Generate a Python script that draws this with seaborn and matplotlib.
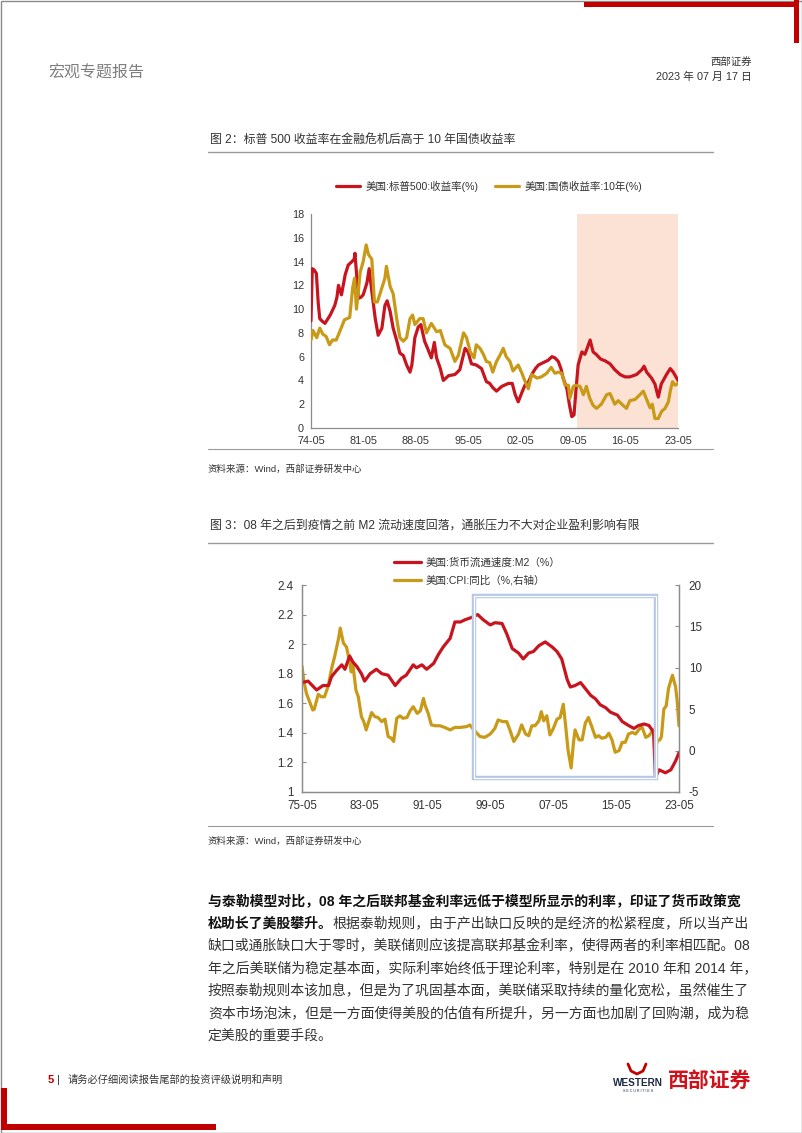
import matplotlib
matplotlib.use("Agg")
import matplotlib.pyplot as plt
import seaborn as sns
import pandas as pd
from matplotlib.patches import Rectangle
from matplotlib.lines import Line2D

# ---------------- data: chart 1 (S&P500 earnings yield vs 10Y treasury) ----------------
sp_years = [1974.33, 1974.5, 1974.75, 1975.05, 1975.3, 1975.5, 1975.8, 1976.2, 1976.6, 1976.9,
            1977.5, 1977.8, 1978.0, 1978.4, 1978.9, 1979.3, 1979.8, 1980.1, 1980.2, 1980.4,
            1980.65, 1981.0, 1981.3, 1981.8, 1982.1, 1982.45, 1982.9, 1983.3, 1983.8, 1984.2,
            1984.5, 1984.9, 1985.3, 1985.8, 1986.2, 1986.65, 1987.1, 1987.55, 1987.8, 1988.2,
            1988.65, 1989.0, 1989.5, 1989.9, 1990.4, 1990.8, 1991.1, 1991.6, 1992.0, 1992.7,
            1993.55, 1994.2, 1994.9, 1995.3, 1995.75, 1996.4, 1997.1, 1997.75, 1998.2, 1998.6,
            1999.1, 1999.8, 2000.7, 2001.2, 2001.6, 2002.0, 2002.5, 2002.9, 2003.4, 2003.8,
            2004.3, 2004.7, 2005.35, 2006.0, 2006.5, 2006.9, 2007.35, 2007.7, 2008.0, 2008.5,
            2008.85, 2009.15, 2009.45, 2009.7, 2010.0, 2010.5, 2010.9, 2011.2, 2011.6, 2012.0,
            2012.4, 2013.0, 2013.6, 2014.25, 2014.9, 2015.6, 2016.25, 2016.9, 2017.8, 2018.5,
            2018.8, 2019.15, 2019.8, 2020.25, 2020.7, 2021.1, 2021.8, 2022.3, 2022.7, 2023.33]
sp_yield = [9.0, 13.4, 13.3, 13.0, 10.5, 9.2, 9.0, 8.8, 9.2, 9.5,
            10.3, 11.0, 12.0, 11.2, 12.9, 13.7, 14.0, 14.2, 14.7, 13.1,
            10.9, 11.0, 11.2, 12.2, 13.4, 11.5, 9.25, 7.8, 8.4, 10.3,
            10.7, 9.8, 8.4, 7.3, 6.3, 6.1, 5.3, 4.7, 5.3, 7.6,
            8.5, 8.7, 7.3, 6.7, 5.9, 7.2, 5.9, 5.0, 4.0, 4.4,
            4.5, 4.9, 6.7, 6.4, 5.4, 5.3, 5.0, 3.9, 3.75, 3.4,
            3.1, 3.5, 3.75, 3.75, 2.8, 2.2, 3.0, 3.6, 3.9, 4.5,
            5.0, 5.3, 5.5, 5.7, 6.0, 5.9, 5.6, 5.0, 4.2, 3.3,
            1.9, 0.95, 1.1, 3.1, 5.3, 6.4, 6.2, 6.7, 7.4, 6.4,
            6.2, 5.8, 5.65, 5.4, 4.9, 4.5, 4.3, 4.3, 4.5, 4.9,
            5.2, 4.7, 4.2, 3.7, 2.6, 3.7, 4.5, 5.0, 4.7, 4.0]

tsy_years = [1974.33, 1974.6, 1975.1, 1975.5, 1975.9, 1976.35, 1976.8, 1977.2, 1977.7, 1978.1,
             1978.8, 1979.5, 1979.9, 1980.15, 1980.4, 1980.9, 1981.3, 1981.7, 1982.0, 1982.45,
             1982.8, 1983.2, 1983.7, 1984.2, 1984.4, 1984.9, 1985.3, 1985.8, 1986.2, 1986.65,
             1987.1, 1987.55, 1987.9, 1988.2, 1988.85, 1989.3, 1989.75, 1990.4, 1991.1, 1991.6,
             1992.2, 1992.9, 1993.55, 1994.0, 1994.7, 1995.1, 1995.6, 1996.1, 1996.4, 1996.9,
             1997.35, 1997.75, 1998.2, 1998.6, 1999.1, 1999.55, 2000.0, 2000.4, 2000.9, 2001.3,
             2002.0, 2002.5, 2002.8, 2003.35, 2003.8, 2004.5, 2005.1, 2005.8, 2006.4, 2006.9,
             2007.35, 2007.8, 2008.25, 2008.7, 2008.9, 2009.35, 2009.7, 2010.25, 2010.7, 2011.1,
             2011.55, 2012.0, 2012.45, 2013.1, 2013.8, 2014.25, 2014.9, 2015.35, 2016.0, 2016.45,
             2016.9, 2017.6, 2018.25, 2018.7, 2019.15, 2019.6, 2019.9, 2020.25, 2020.7, 2021.15,
             2021.6, 2022.05, 2022.3, 2022.6, 2022.95, 2023.33]
tsy_yield = [7.4, 8.2, 7.6, 8.4, 7.9, 7.7, 7.0, 7.4, 7.4, 8.0,
             9.1, 9.3, 11.8, 12.6, 10.0, 13.1, 14.0, 15.4, 14.6, 14.2,
             10.6, 10.6, 11.6, 12.6, 13.6, 11.9, 11.3, 9.1, 7.6, 7.3,
             7.6, 9.2, 9.5, 8.7, 9.2, 9.2, 8.0, 8.8, 8.1, 8.2,
             7.0, 6.7, 5.6, 6.1, 8.0, 7.6, 6.4, 5.9, 7.0, 6.7,
             6.2, 5.6, 5.5, 4.7, 5.6, 6.1, 6.7, 6.0, 5.6, 4.8,
             5.3, 4.6, 4.1, 3.3, 4.5, 4.2, 4.3, 4.6, 5.1, 4.6,
             4.7, 4.6, 3.6, 3.6, 2.5, 3.5, 3.6, 3.5, 2.8, 3.5,
             2.5, 1.9, 1.65, 2.0, 2.8, 2.9, 2.0, 2.3, 1.9, 1.65,
             2.3, 2.4, 2.8, 3.1, 2.4, 1.7, 2.0, 0.8, 0.8, 1.4,
             1.65, 2.2, 3.1, 3.9, 3.6, 3.75]

c1_xlabels = ["74-05", "81-05", "88-05", "95-05", "02-05", "09-05", "16-05", "23-05"]
c1_yticks = [0, 2, 4, 6, 8, 10, 12, 14, 16, 18]
c1_shade = (2009.85, 2023.33)
c1_names = ["美国:标普500:收益率(%)", "美国:国债收益率:10年(%)"]

# ---------------- data: chart 2 (M2 velocity vs CPI yoy) ----------------
m2_years = [1975.33, 1976.1, 1977.2, 1978.0, 1978.7, 1979.1, 1979.7, 1980.4, 1980.8, 1981.4,
            1981.8, 1982.3, 1982.9, 1983.3, 1984.0, 1984.8, 1985.5, 1986.3, 1987.2, 1988.0,
            1988.6, 1989.5, 1989.9, 1990.6, 1991.2, 1992.1, 1992.7, 1993.3, 1994.2, 1994.8,
            1995.5, 1996.1, 1996.9, 1997.7, 1998.4, 1999.3, 1999.9, 2000.8, 2001.4, 2002.1,
            2002.9, 2003.5, 2004.2, 2004.8, 2005.5, 2006.3, 2007.2, 2007.8, 2008.4, 2009.1,
            2009.5, 2010.1, 2010.8, 2011.4, 2012.1, 2012.7, 2013.3, 2014.0, 2014.6, 2015.5,
            2016.1, 2016.9, 2017.6, 2018.2, 2018.9, 2019.5, 2019.9, 2020.1, 2020.33, 2020.8,
            2021.6, 2022.3, 2022.9, 2023.33]
m2_vel = [1.74, 1.75, 1.69, 1.72, 1.72, 1.78, 1.82, 1.86, 1.83, 1.92,
          1.88, 1.85, 1.80, 1.75, 1.80, 1.83, 1.80, 1.79, 1.72, 1.77,
          1.79, 1.86, 1.84, 1.86, 1.83, 1.87, 1.93, 1.98, 2.04, 2.15,
          2.15, 2.165, 2.18, 2.20, 2.165, 2.13, 2.145, 2.14, 2.07, 1.97,
          1.94, 1.90, 1.94, 1.95, 1.99, 2.015, 1.98, 1.95, 1.90, 1.76,
          1.71, 1.72, 1.74, 1.70, 1.653, 1.63, 1.59, 1.57, 1.54, 1.52,
          1.477, 1.45, 1.43, 1.45, 1.46, 1.45, 1.42, 1.40, 1.10, 1.15,
          1.13, 1.15, 1.21, 1.265]

cpi_years = [1975.33, 1975.55, 1975.9, 1976.3, 1976.7, 1976.9, 1977.4, 1977.8, 1978.2, 1978.7,
             1979.1, 1979.5, 1980.0, 1980.2, 1980.6, 1981.0, 1981.4, 1981.6, 1981.8, 1982.2,
             1982.5, 1982.9, 1983.2, 1983.5, 1983.9, 1984.2, 1984.6, 1985.0, 1985.5, 1985.9,
             1986.3, 1986.7, 1987.0, 1987.4, 1987.8, 1988.2, 1988.7, 1989.1, 1989.5, 1990.0,
             1990.4, 1990.8, 1991.0, 1991.4, 1991.8, 1992.3, 1992.9, 1993.5, 1994.2, 1994.8,
             1995.5, 1996.3, 1996.7, 1997.4, 1998.0, 1998.6, 1999.3, 1999.9, 2000.3, 2000.9,
             2001.4, 2001.8, 2002.3, 2002.9, 2003.3, 2003.8, 2004.2, 2004.6, 2005.0, 2005.5,
             2005.8, 2006.1, 2006.5, 2006.9, 2007.3, 2007.8, 2008.2, 2008.6, 2008.9, 2009.2,
             2009.6, 2009.9, 2010.1, 2010.6, 2011.0, 2011.4, 2011.8, 2012.3, 2012.7, 2013.1,
             2013.5, 2014.0, 2014.4, 2014.8, 2015.2, 2015.7, 2016.1, 2016.5, 2016.9, 2017.4,
             2017.8, 2018.2, 2018.6, 2019.1, 2019.5, 2019.9, 2020.1, 2020.3, 2020.6, 2020.9,
             2021.1, 2021.4, 2021.7, 2022.0, 2022.3, 2022.5, 2022.9, 2023.1, 2023.33]
cpi_yoy = [10.2, 8.5, 6.9, 5.9, 4.9, 5.0, 6.8, 6.5, 6.5, 7.9,
           9.9, 11.4, 13.6, 14.8, 13.0, 12.5, 10.7, 9.5, 10.5, 7.3,
           6.5, 4.1, 3.5, 2.5, 3.7, 4.6, 4.1, 4.0, 3.5, 3.8,
           1.7, 1.5, 1.1, 3.9, 4.2, 3.9, 4.0, 4.8, 5.3, 4.5,
           4.8, 6.3, 5.5, 4.5, 3.1, 3.0, 3.0, 2.8, 2.5, 2.8,
           2.8, 2.9, 3.1, 2.3, 1.7, 1.6, 2.0, 2.7, 3.7, 3.5,
           3.5, 2.5, 1.1, 2.0, 3.1, 2.0, 1.8, 3.0, 3.0, 3.6,
           4.7, 3.6, 4.2, 1.9, 2.6, 3.8, 4.0, 5.6, 3.0, 0.1,
           -2.1, 1.0, 2.5, 1.3, 1.3, 3.3, 4.0, 2.7, 1.6, 1.8,
           1.5, 1.6, 2.1, 1.3, -0.2, 0.0, 1.0, 1.0, 2.0, 2.2,
           2.0, 2.5, 2.9, 1.6, 1.8, 2.3, 2.5, 0.3, 1.2, 1.3,
           1.7, 5.0, 5.4, 7.5, 8.5, 9.1, 7.7, 6.0, 3.0]

c2_xlabels = ["75-05", "83-05", "91-05", "99-05", "07-05", "15-05", "23-05"]
c2_yticks_left = [1.0, 1.2, 1.4, 1.6, 1.8, 2.0, 2.2, 2.4]
c2_yticks_right = [-5, 0, 5, 10, 15, 20]
c2_names = ["美国:货币流通速度:M2（%）", "美国:CPI:同比（%,右轴）"]

# ---------------- style ----------------
RED = "#C8141E"
GOLD = "#C89A18"
SPINE = "#8C8C8C"
TXT = "#333333"
sns.set_theme(style="white")
plt.rcParams["font.family"] = ["Liberation Sans", "Noto Sans CJK SC", "DejaVu Sans"]
plt.rcParams["axes.unicode_minus"] = False

W, H = 802, 1133
fig = plt.figure(figsize=(W / 100, H / 100), dpi=100)


def ftext(px, py, s, **kw):
    kw.setdefault("va", "center")
    return fig.text(px / W, 1 - py / H, s, **kw)


def fline(x0, x1, y0, y1, **kw):
    fig.add_artist(Line2D([x0 / W, x1 / W], [1 - y0 / H, 1 - y1 / H], transform=fig.transFigure, **kw))


def frect(x0, y0, x1, y1, **kw):
    fig.add_artist(Rectangle((x0 / W, 1 - y1 / H), (x1 - x0) / W, (y1 - y0) / H,
                             transform=fig.transFigure, **kw))


def lab2year(s):
    yy = int(s[:2])
    mm = int(s[3:])
    return (1900 + yy if yy > 50 else 2000 + yy) + (mm - 1) / 12


# page frame & decorations
frect(0.5, 0.5, W - 0.5, H - 0.5, fill=False, edgecolor="#8A8A8A", lw=1.0)
frect(584, 2, 798, 7, color="#C00000", lw=0)
frect(794, 0, 799, 43, color="#C00000", lw=0)
frect(1, 1088, 7, 1130, color="#C00000", lw=0)
frect(1, 1124, 216, 1130, color="#C00000", lw=0)

ftext(48, 73, "宏观专题报告", fontsize=11.5, color="#7F7F7F", ha="left")
ftext(752, 62, "西部证券", fontsize=7.5, color=TXT, ha="right")
ftext(752, 77, "2023 年 07 月 17 日", fontsize=7.8, color=TXT, ha="right")

# ---------------- chart 1 ----------------
ftext(210, 140, "图 2：标普 500 收益率在金融危机后高于 10 年国债收益率", fontsize=8.6, color=TXT, ha="left")
fline(208, 713, 151.5, 151.5, color="#9A9A9A", lw=1.0)

ax1 = fig.add_axes([311 / W, 1 - 428 / H, 367 / W, 214 / H])
df_sp = pd.DataFrame({"year": sp_years, "v": sp_yield})
df_ty = pd.DataFrame({"year": tsy_years, "v": tsy_yield})
ax1.axvspan(c1_shade[0], c1_shade[1], color="#FBE2D5", lw=0, zorder=0)
sns.lineplot(data=df_sp, x="year", y="v", ax=ax1, color=RED, lw=2.3, label=c1_names[0], zorder=3)
sns.lineplot(data=df_ty, x="year", y="v", ax=ax1, color=GOLD, lw=2.3, label=c1_names[1], zorder=4)
ax1.set_xlim(lab2year(c1_xlabels[0]), lab2year(c1_xlabels[-1]))
ax1.set_ylim(c1_yticks[0], c1_yticks[-1])
ax1.set_xticks([lab2year(s) for s in c1_xlabels])
ax1.set_xticklabels(c1_xlabels)
ax1.set_yticks(c1_yticks)
ax1.set_xlabel("")
ax1.set_ylabel("")
for s in ["top", "right"]:
    ax1.spines[s].set_visible(False)
for s in ["left", "bottom"]:
    ax1.spines[s].set_color(SPINE)
    ax1.spines[s].set_linewidth(0.9)
ax1.tick_params(axis="both", direction="in", length=3, width=0.8, color=SPINE,
                labelsize=7.8, labelcolor=TXT)
ax1.tick_params(axis="x", pad=6)
ax1.tick_params(axis="y", pad=5)
ax1.set_facecolor("none")
ax1.legend(loc="center", bbox_to_anchor=(489 / W, 1 - 186 / H), bbox_transform=fig.transFigure,
           ncol=2, frameon=False, fontsize=7.6, handlelength=2.3, handletextpad=0.45,
           columnspacing=1.6, borderpad=0, labelcolor=TXT)

fline(208, 713, 449, 449, color="#9A9A9A", lw=0.8)
ftext(208, 469, "资料来源：Wind，西部证券研发中心", fontsize=6.8, color=TXT, ha="left")

# ---------------- chart 2 ----------------
ftext(210, 526, "图 3：08 年之后到疫情之前 M2 流动速度回落，通胀压力不大对企业盈利影响有限",
      fontsize=8.6, color=TXT, ha="left")
fline(208, 713, 543, 543, color="#9A9A9A", lw=1.0)

ax2 = fig.add_axes([302 / W, 1 - 792 / H, 377 / W, 207 / H])
ax2r = ax2.twinx()
df_m2 = pd.DataFrame({"year": m2_years, "v": m2_vel})
df_cpi = pd.DataFrame({"year": cpi_years, "v": cpi_yoy})
sns.lineplot(data=df_m2, x="year", y="v", ax=ax2, color=RED, lw=2.3, label=c2_names[0])
sns.lineplot(data=df_cpi, x="year", y="v", ax=ax2r, color=GOLD, lw=2.3, label=c2_names[1])
ax2.set_zorder(ax2r.get_zorder() + 1)
ax2.patch.set_visible(False)
ax2.set_xlim(lab2year(c2_xlabels[0]), lab2year(c2_xlabels[-1]))
ax2.set_ylim(c2_yticks_left[0], c2_yticks_left[-1])
ax2r.set_ylim(c2_yticks_right[0], c2_yticks_right[-1])
ax2.set_xticks([lab2year(s) for s in c2_xlabels])
ax2.set_xticklabels(c2_xlabels)
ax2.set_yticks(c2_yticks_left)
ax2.set_yticklabels([f"{v:g}" for v in c2_yticks_left])
ax2r.set_yticks(c2_yticks_right)
for a in (ax2, ax2r):
    a.set_xlabel("")
    a.set_ylabel("")
    a.spines["top"].set_visible(False)
    for s in ["left", "right", "bottom"]:
        a.spines[s].set_color(SPINE)
        a.spines[s].set_linewidth(0.9)
    a.tick_params(axis="both", direction="in", length=3, width=0.8, color=SPINE,
                  labelsize=8.4, labelcolor=TXT)
ax2.tick_params(axis="x", pad=6)
ax2.tick_params(axis="y", pad=6)
ax2r.tick_params(axis="y", pad=7)
h1, l1 = ax2.get_legend_handles_labels()
h2, l2 = ax2r.get_legend_handles_labels()
if ax2r.get_legend() is not None:
    ax2r.get_legend().remove()
ax2.legend(h1 + h2, l1 + l2, loc="center left", bbox_to_anchor=(389 / W, 1 - 571.5 / H),
           bbox_transform=fig.transFigure, ncol=1, frameon=False, fontsize=7.6,
           handlelength=2.5, handletextpad=0.45, labelspacing=0.75, borderpad=0, labelcolor=TXT)

# highlight box (double light-blue border)
box_kw = dict(transform=ax2.transAxes, fill=False, clip_on=False)
ax2.add_patch(Rectangle((0.456, 0.068), 0.483, 0.879, edgecolor="#B5C6E6", lw=3.2, zorder=6, **box_kw))
ax2.add_patch(Rectangle((0.456, 0.068), 0.483, 0.879, edgecolor="white", lw=0.9, zorder=7, **box_kw))

fline(208, 713, 826, 826, color="#9A9A9A", lw=0.8)
ftext(208, 841, "资料来源：Wind，西部证券研发中心", fontsize=6.8, color=TXT, ha="left")

# ---------------- body paragraph ----------------
BODY = 10.0
line_y = [901, 923.5, 946, 968.5, 991, 1013.5, 1036]
bold_lines = ["与泰勒模型对比，08 年之后联邦基金利率远低于模型所显示的利率，印证了货币政策宽",
              "松助长了美股攀升。"]
normal_lines = ["根据泰勒规则，由于产出缺口反映的是经济的松紧程度，所以当产出",
                "缺口或通胀缺口大于零时，美联储则应该提高联邦基金利率，使得两者的利率相匹配。08",
                "年之后美联储为稳定基本面，实际利率始终低于理论利率，特别是在 2010 年和 2014 年，",
                "按照泰勒规则本该加息，但是为了巩固基本面，美联储采取持续的量化宽松，虽然催生了",
                "资本市场泡沫，但是一方面使得美股的估值有所提升，另一方面也加剧了回购潮，成为稳",
                "定美股的重要手段。"]
ftext(208, line_y[0], bold_lines[0], fontsize=BODY, fontweight="bold", color="#111111", ha="left")
tb = ftext(208, line_y[1], bold_lines[1], fontsize=BODY, fontweight="bold", color="#111111", ha="left")
fig.canvas.draw()
bb = tb.get_window_extent(renderer=fig.canvas.get_renderer())
fig.text(bb.x1 / W, 1 - line_y[1] / H, normal_lines[0], fontsize=BODY, color=TXT, ha="left", va="center")
for yy, s in zip(line_y[2:], normal_lines[1:]):
    ftext(208, yy, s, fontsize=BODY, color=TXT, ha="left")

# ---------------- footer ----------------
ftext(48, 1080, "5", fontsize=8, color="#C00000", fontweight="bold", ha="left")
ftext(57, 1080, "|", fontsize=8, color=TXT, ha="left")
ftext(68, 1080, "请务必仔细阅读报告尾部的投资评级说明和声明", fontsize=7.4, color=TXT, ha="left")
# logo
fig.add_artist(Line2D([628 / W, 631 / W, 637 / W, 643 / W, 646 / W],
                      [1 - 1064 / H, 1 - 1071 / H, 1 - 1074 / H, 1 - 1071 / H, 1 - 1064 / H],
                      transform=fig.transFigure, color="#C00000", lw=2.0))
ftext(638, 1083, "WESTERN", fontsize=7.2, fontweight="bold", color="#1F2A44", ha="center")
ftext(638, 1091, "S E C U R I T I E S", fontsize=2.6, color="#1F2A44", ha="center")
ftext(710, 1081, "西部证券", fontsize=15, fontweight="bold", color="#D0101A", ha="center")

fig.savefig("out.png", dpi=100)
